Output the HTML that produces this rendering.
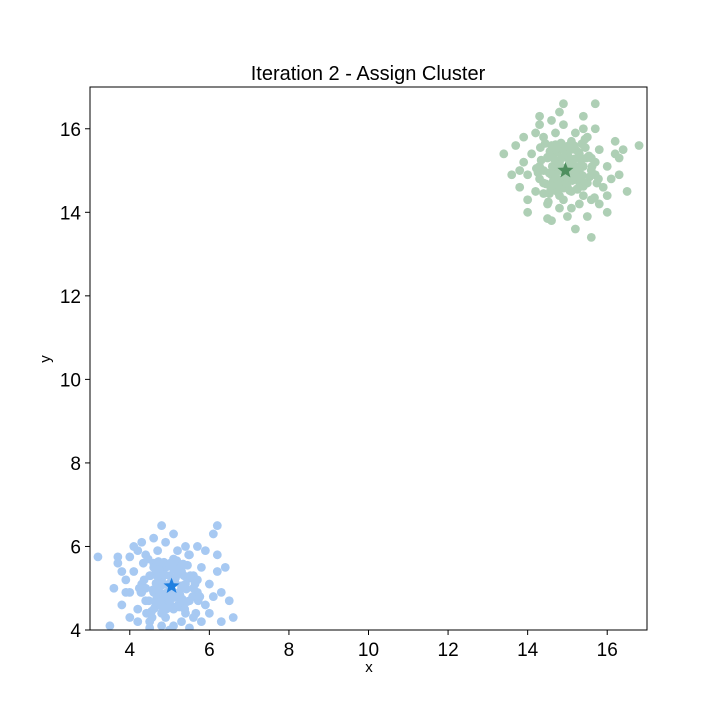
<!DOCTYPE html>
<html><head><meta charset="utf-8"><style>
html,body{margin:0;padding:0;background:#fff}
svg text{font-family:"Liberation Sans","DejaVu Sans",sans-serif;fill:#000}
</style></head><body>
<svg id="chart" width="720" height="720">
<defs><clipPath id="plotclip"><rect x="90" y="87" width="557" height="543"/></clipPath></defs>
<text x="368" y="80" text-anchor="middle" font-size="20">Iteration 2 - Assign Cluster</text>
<g id="points" clip-path="url(#plotclip)"></g>
<g id="stars" clip-path="url(#plotclip)"></g>
<rect x="90" y="87" width="557" height="543" fill="none" stroke="#000" stroke-width="1"/>
<g id="xticks"></g>
<g id="yticks"></g>
<text x="369" y="672" text-anchor="middle" font-size="15">x</text>
<text x="50" y="359" text-anchor="middle" font-size="15" transform="rotate(-90 50 359)">y</text>
</svg>
<script>
const xTicks=[4,6,8,10,12,14,16];
const yTicks=[4,6,8,10,12,14,16];
const blueX=[5.0,4.8,5.2,4.6,5.4,4.9,5.1,4.5,5.5,4.7,5.3,4.4,5.6,4.9,5.1,4.3,5.7,4.6,5.4,4.2,5.8,4.8,5.2,4.1,5.9,4.5,5.5,4.0,6.0,4.7,5.3,4.4,5.6,3.9,6.1,4.9,5.1,4.2,5.8,3.8,6.2,4.6,5.4,4.0,6.0,3.7,6.3,4.3,5.7,3.6,6.4,4.8,3.5,6.6,3.2,6.5,3.7,6.2,5.1,4.1,6.1,4.0,6.3,3.9,5.9,4.2,5.0,4.7,5.3,5.0,4.55,5.45,4.85,5.15,4.65,5.35,4.95,5.05,4.75,5.25,4.4,5.6,5.0,4.5,5.5,3.8,6.2,4.3,5.7,5.2,4.8,
4.62,4.78,4.92,5.08,5.22,5.38,4.68,4.84,5.0,5.16,5.32,4.58,4.74,4.9,5.06,5.24,5.42,4.66,4.82,4.98,5.14,5.3,4.52,4.7,4.88,5.04,5.2,5.36,5.5,4.6,4.76,4.94,5.1,5.28,4.48,4.64,4.8,4.96,5.12,5.26,5.44,4.72,4.86,5.02,5.18,5.34,4.42,5.58,4.36,5.64,4.28,5.72,4.46,5.52,4.34,5.66,4.24,5.76,4.56,5.48];
const blueY=[5.0,5.2,4.8,4.9,5.1,5.5,4.5,5.3,4.7,4.6,5.4,4.7,5.3,4.3,5.7,5.1,4.9,5.6,4.4,4.5,5.5,4.1,5.9,5.4,4.6,4.2,5.8,4.9,5.1,5.9,4.2,5.8,4.3,5.2,4.8,6.1,4.1,5.9,4.2,4.6,5.4,6.2,6.0,4.3,4.4,5.6,4.9,6.1,6.0,5.0,5.5,6.5,4.1,4.3,5.75,4.7,5.75,6.5,6.3,6.0,6.3,5.75,4.2,4.9,5.9,4.2,4.6,5.0,5.0,5.3,4.45,5.55,4.75,5.25,5.35,4.65,4.85,5.15,5.45,4.55,5.0,5.0,4.0,4.05,4.05,5.4,5.8,4.9,5.2,5.5,4.4,
4.52,4.58,4.5,4.56,4.6,4.5,4.76,4.72,4.68,4.8,4.74,4.96,4.92,4.88,4.94,4.9,4.98,5.12,5.08,5.1,5.14,5.06,5.3,5.28,5.32,5.26,5.34,5.3,5.24,5.5,5.48,5.52,5.46,5.44,4.7,4.66,4.62,4.82,4.78,4.84,4.68,5.64,5.62,5.6,5.66,5.58,4.4,4.8,5.2,5.1,4.9,4.7,5.7,5.3,5.6,4.4,5.0,4.8,4.3,5.8];
const greenX=[15.0,14.8,15.2,14.6,15.4,14.9,15.1,14.5,15.5,14.7,15.3,14.4,15.6,14.9,15.1,14.3,15.7,14.6,15.4,14.2,15.8,14.8,15.2,14.1,15.9,14.5,15.5,14.0,16.0,14.7,15.3,14.4,15.6,13.9,16.1,14.9,15.1,14.2,15.8,13.8,16.2,14.6,15.4,14.0,16.0,13.7,16.3,14.3,15.7,13.6,16.4,14.8,13.4,16.8,15.6,14.9,15.7,16.5,14.0,15.2,16.3,14.3,13.9,16.0,15.0,14.7,15.3,15.0,14.55,15.45,14.85,15.15,14.65,15.35,14.95,15.05,14.75,15.25,14.4,15.6,15.0,14.5,15.5,13.8,16.2,14.3,15.7,15.2,14.8,15.4,14.6,
14.58,14.74,14.9,15.06,15.24,15.4,14.64,14.8,14.96,15.12,15.3,14.54,14.7,14.88,15.04,15.2,15.38,14.62,14.78,14.94,15.1,15.26,14.5,14.68,14.86,15.02,15.18,15.34,15.48,14.56,14.72,14.92,15.08,15.28,14.46,14.6,14.76,14.98,15.14,15.32,15.46,14.7,14.84,15.0,15.16,15.36,14.4,15.56,14.34,15.62,14.26,15.74,14.44,15.54,14.32,15.68,14.22,15.78,14.52,15.44];
const greenY=[15.0,15.2,14.8,14.9,15.1,15.5,14.5,15.3,14.7,14.6,15.4,14.7,15.3,14.3,15.7,15.1,14.9,15.6,14.4,14.5,15.5,14.1,15.9,15.4,14.6,14.2,15.8,14.9,15.1,15.9,14.2,15.8,14.3,15.2,14.8,16.1,14.1,15.9,14.2,14.6,15.4,16.2,16.0,14.3,14.4,15.6,14.9,16.1,16.0,14.9,15.5,16.4,15.4,15.6,13.4,16.6,16.6,14.5,14.0,13.6,15.3,16.3,15.8,14.0,14.6,15.0,15.0,15.3,14.45,15.55,14.75,15.25,15.35,14.65,14.85,15.15,15.45,14.55,15.0,15.0,13.9,13.85,13.9,15.0,15.7,14.8,15.2,15.5,14.4,16.3,13.8,
14.54,14.5,14.58,14.52,14.56,14.62,14.74,14.78,14.7,14.76,14.72,14.94,14.9,14.98,14.92,14.96,14.88,15.1,15.14,15.06,15.12,15.08,15.32,15.26,15.3,15.34,15.28,15.24,15.3,15.46,15.52,15.48,15.5,15.44,14.68,14.64,14.66,14.84,14.8,14.82,14.7,15.62,15.66,15.58,15.6,15.64,14.45,14.85,15.25,15.1,14.95,14.7,15.65,15.35,15.55,14.35,15.05,14.8,14.25,15.75];
const centroidX=[5.05,14.95];
const centroidY=[5.05,15.0];
const X0=3,X1=17,Y0=4,Y1=17,L=90,R=647,T=87,B=630;
const sx=v=>L+(v-X0)/(X1-X0)*(R-L);
const sy=v=>B-(v-Y0)/(Y1-Y0)*(B-T);
const NS='http://www.w3.org/2000/svg';
const pts=document.getElementById('points');
function drawCluster(xs,ys,color,name){
  for(let i=0;i<xs.length;i++){
    const c=document.createElementNS(NS,'circle');
    c.setAttribute('cx',sx(xs[i]));c.setAttribute('cy',sy(ys[i]));
    c.setAttribute('r',4.4);c.setAttribute('fill',color);
    
    
    pts.appendChild(c);
  }
}
drawCluster(blueX,blueY,'#a7c9f2','blue-cluster-point');
drawCluster(greenX,greenY,'#aecfb5','green-cluster-point');
const stars=document.getElementById('stars');
const starColors=['#1e7fe0','#4f8f5f'];
function starPath(cx,cy,ro,ri){let d='';for(let k=0;k<10;k++){const r=k%2?ri:ro;const a=-Math.PI/2+k*Math.PI/5;d+=(k?'L':'M')+(cx+r*Math.cos(a)).toFixed(1)+','+(cy+r*Math.sin(a)).toFixed(1);}return d+'Z';}
for(let i=0;i<centroidX.length;i++){
  const p=document.createElementNS(NS,'path');
  p.setAttribute('d',starPath(sx(centroidX[i]),sy(centroidY[i]),8.5,3.6));
  p.setAttribute('fill',starColors[i]);
  
  
  stars.appendChild(p);
}
const xt=document.getElementById('xticks');
xTicks.forEach(v=>{
  const l=document.createElementNS(NS,'line');
  l.setAttribute('x1',sx(v));l.setAttribute('x2',sx(v));l.setAttribute('y1',B);l.setAttribute('y2',B+5);l.setAttribute('stroke','#000');
  
  
  xt.appendChild(l);
  const t=document.createElementNS(NS,'text');
  t.setAttribute('x',sx(v));t.setAttribute('y',B+26);t.setAttribute('text-anchor','middle');t.setAttribute('font-size','19');
  t.textContent=v;
  
  
  xt.appendChild(t);
});
const yt=document.getElementById('yticks');
yTicks.forEach(v=>{
  const l=document.createElementNS(NS,'line');
  l.setAttribute('x1',L-5);l.setAttribute('x2',L);l.setAttribute('y1',sy(v));l.setAttribute('y2',sy(v));l.setAttribute('stroke','#000');
  
  
  yt.appendChild(l);
  const t=document.createElementNS(NS,'text');
  t.setAttribute('x',L-9);t.setAttribute('y',sy(v)+7);t.setAttribute('text-anchor','end');t.setAttribute('font-size','19');
  t.textContent=v;
  
  
  yt.appendChild(t);
});
</script>
</body></html>
